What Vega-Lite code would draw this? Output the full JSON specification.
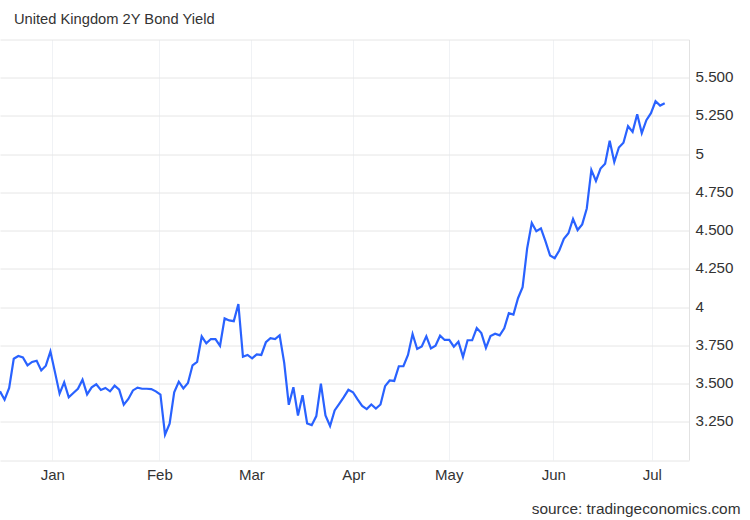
{
  "$schema": "https://vega.github.io/schema/vega-lite/v6.json",
  "autosize": "none",
  "width": 689,
  "height": 420.5,
  "padding": {"left": 0, "top": 39.5, "right": 61, "bottom": 60},
  "background": "white",
  "view": {"stroke": null},
  "title": {
    "text": "United Kingdom 2Y Bond Yield",
    "anchor": "start",
    "font": "Liberation Sans",
    "fontSize": 14.7,
    "fontWeight": "normal",
    "color": "#333333",
    "dx": 14,
    "offset": 13
  },
  "data": {
    "values": [
      {"session": 0, "yield": 3.449}, {"session": 1, "yield": 3.394}, {"session": 2, "yield": 3.471},
      {"session": 3, "yield": 3.662}, {"session": 4, "yield": 3.68}, {"session": 5, "yield": 3.671},
      {"session": 6, "yield": 3.619}, {"session": 7, "yield": 3.641}, {"session": 8, "yield": 3.649},
      {"session": 9, "yield": 3.586}, {"session": 10, "yield": 3.617}, {"session": 11, "yield": 3.71},
      {"session": 12, "yield": 3.573}, {"session": 13, "yield": 3.434}, {"session": 14, "yield": 3.508},
      {"session": 15, "yield": 3.41}, {"session": 16, "yield": 3.438}, {"session": 17, "yield": 3.466},
      {"session": 18, "yield": 3.525}, {"session": 19, "yield": 3.429}, {"session": 20, "yield": 3.475},
      {"session": 21, "yield": 3.495}, {"session": 22, "yield": 3.458}, {"session": 23, "yield": 3.471},
      {"session": 24, "yield": 3.449}, {"session": 25, "yield": 3.486}, {"session": 26, "yield": 3.46},
      {"session": 27, "yield": 3.362}, {"session": 28, "yield": 3.399}, {"session": 29, "yield": 3.455},
      {"session": 30, "yield": 3.473}, {"session": 31, "yield": 3.466}, {"session": 32, "yield": 3.466},
      {"session": 33, "yield": 3.464}, {"session": 34, "yield": 3.449}, {"session": 35, "yield": 3.427},
      {"session": 36, "yield": 3.166}, {"session": 37, "yield": 3.237}, {"session": 38, "yield": 3.442},
      {"session": 39, "yield": 3.512}, {"session": 40, "yield": 3.468}, {"session": 41, "yield": 3.503},
      {"session": 42, "yield": 3.619}, {"session": 43, "yield": 3.641}, {"session": 44, "yield": 3.808},
      {"session": 45, "yield": 3.763}, {"session": 46, "yield": 3.791}, {"session": 47, "yield": 3.791},
      {"session": 48, "yield": 3.747}, {"session": 49, "yield": 3.926}, {"session": 50, "yield": 3.913},
      {"session": 51, "yield": 3.908}, {"session": 52, "yield": 4.02}, {"session": 53, "yield": 3.675},
      {"session": 54, "yield": 3.687}, {"session": 55, "yield": 3.665}, {"session": 56, "yield": 3.691},
      {"session": 57, "yield": 3.687}, {"session": 58, "yield": 3.77}, {"session": 59, "yield": 3.796},
      {"session": 60, "yield": 3.791}, {"session": 61, "yield": 3.815}, {"session": 62, "yield": 3.635},
      {"session": 63, "yield": 3.361}, {"session": 64, "yield": 3.476}, {"session": 65, "yield": 3.291},
      {"session": 66, "yield": 3.424}, {"session": 67, "yield": 3.239}, {"session": 68, "yield": 3.228},
      {"session": 69, "yield": 3.287}, {"session": 70, "yield": 3.5}, {"session": 71, "yield": 3.291},
      {"session": 72, "yield": 3.222}, {"session": 73, "yield": 3.324}, {"session": 74, "yield": 3.367},
      {"session": 75, "yield": 3.411}, {"session": 76, "yield": 3.459}, {"session": 77, "yield": 3.443},
      {"session": 78, "yield": 3.396}, {"session": 79, "yield": 3.354}, {"session": 80, "yield": 3.333},
      {"session": 81, "yield": 3.363}, {"session": 82, "yield": 3.337}, {"session": 83, "yield": 3.363},
      {"session": 84, "yield": 3.483}, {"session": 85, "yield": 3.52}, {"session": 86, "yield": 3.517},
      {"session": 87, "yield": 3.613}, {"session": 88, "yield": 3.613}, {"session": 89, "yield": 3.687},
      {"session": 90, "yield": 3.824}, {"session": 91, "yield": 3.726}, {"session": 92, "yield": 3.743},
      {"session": 93, "yield": 3.809}, {"session": 94, "yield": 3.73}, {"session": 95, "yield": 3.748},
      {"session": 96, "yield": 3.813}, {"session": 97, "yield": 3.785}, {"session": 98, "yield": 3.785},
      {"session": 99, "yield": 3.741}, {"session": 100, "yield": 3.774}, {"session": 101, "yield": 3.674},
      {"session": 102, "yield": 3.783}, {"session": 103, "yield": 3.783}, {"session": 104, "yield": 3.863},
      {"session": 105, "yield": 3.83}, {"session": 106, "yield": 3.733}, {"session": 107, "yield": 3.81},
      {"session": 108, "yield": 3.826}, {"session": 109, "yield": 3.815}, {"session": 110, "yield": 3.861},
      {"session": 111, "yield": 3.96}, {"session": 112, "yield": 3.951}, {"session": 113, "yield": 4.058},
      {"session": 114, "yield": 4.13}, {"session": 115, "yield": 4.385}, {"session": 116, "yield": 4.55},
      {"session": 117, "yield": 4.496}, {"session": 118, "yield": 4.515}, {"session": 119, "yield": 4.43},
      {"session": 120, "yield": 4.337}, {"session": 121, "yield": 4.32}, {"session": 122, "yield": 4.37},
      {"session": 123, "yield": 4.446}, {"session": 124, "yield": 4.483}, {"session": 125, "yield": 4.576},
      {"session": 126, "yield": 4.504}, {"session": 127, "yield": 4.541}, {"session": 128, "yield": 4.645},
      {"session": 129, "yield": 4.897}, {"session": 130, "yield": 4.825}, {"session": 131, "yield": 4.906},
      {"session": 132, "yield": 4.938}, {"session": 133, "yield": 5.088}, {"session": 134, "yield": 4.949},
      {"session": 135, "yield": 5.044}, {"session": 136, "yield": 5.075}, {"session": 137, "yield": 5.183},
      {"session": 138, "yield": 5.146}, {"session": 139, "yield": 5.261}, {"session": 140, "yield": 5.138},
      {"session": 141, "yield": 5.222}, {"session": 142, "yield": 5.268}, {"session": 143, "yield": 5.346},
      {"session": 144, "yield": 5.318}, {"session": 145, "yield": 5.333}
    ]
  },
  "mark": {"type": "line", "color": "#2962ff", "strokeWidth": 2.2, "interpolate": "linear", "clip": true},
  "encoding": {
    "x": {
      "field": "session",
      "type": "quantitative",
      "scale": {"domain": [0, 150.3], "nice": false, "zero": false},
      "axis": {
        "values": [11.4, 34.76, 54.83, 77.1, 97.9, 120.7, 142.2],
        "labelExpr": "{'11.4': 'Jan', '34.76': 'Feb', '54.83': 'Mar', '77.1': 'Apr', '97.9': 'May', '120.7': 'Jun', '142.2': 'Jul'}[datum.value]",
        "labelFont": "Liberation Sans",
        "labelFontSize": 15,
        "labelColor": "#333333",
        "labelPadding": 7,
        "ticks": false,
        "domain": false,
        "grid": true,
        "gridColor": "#f0f2f5",
        "gridWidth": 1,
        "title": "source: tradingeconomics.com",
        "titleFont": "Liberation Sans",
        "titleFontSize": 15.4,
        "titleFontWeight": "normal",
        "titleColor": "#333333",
        "titleAnchor": "end",
        "titleAlign": "right",
        "titleBaseline": "alphabetic",
        "titleX": 740,
        "titleY": 53
      }
    },
    "y": {
      "field": "yield",
      "type": "quantitative",
      "scale": {"domain": [3, 5.75], "nice": false, "zero": false},
      "axis": {
        "orient": "right",
        "values": [3, 3.25, 3.5, 3.75, 4, 4.25, 4.5, 4.75, 5, 5.25, 5.5, 5.75],
        "labelExpr": "datum.value == 3 || datum.value == 5.75 ? '' : (datum.value % 1 == 0 ? format(datum.value, 'd') : format(datum.value, '.3f'))",
        "labelFont": "Liberation Sans",
        "labelFontSize": 15.2,
        "labelColor": "#333333",
        "labelPadding": 6,
        "labelOffset": -1,
        "ticks": false,
        "domain": true,
        "domainColor": "#e2e2e2",
        "domainWidth": 1,
        "grid": true,
        "gridColor": "#e6e6e6",
        "gridWidth": 1,
        "title": null
      }
    }
  }
}
